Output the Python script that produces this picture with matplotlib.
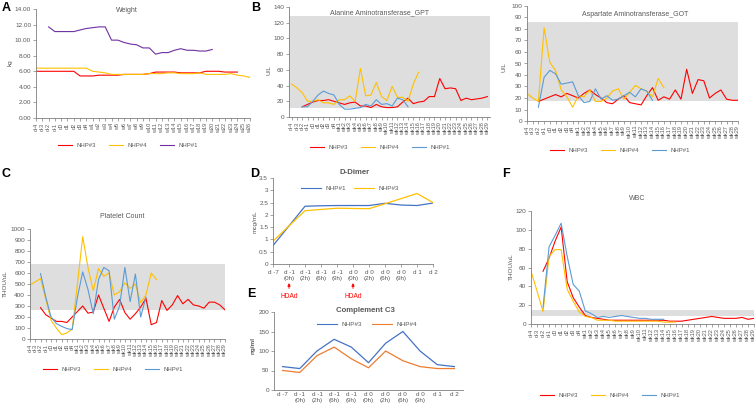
import numpy as np
import matplotlib
matplotlib.use('Agg')
import matplotlib.pyplot as plt
from matplotlib.lines import Line2D

plt.rcParams['font.family'] = ['Liberation Sans', 'DejaVu Sans']

W, H = 756, 413
nan = np.nan

RED = '#FF0000'
YEL = '#FFC000'
PUR = '#7030A0'
LBLUE = '#5B9BD5'
DBLUE = '#4472C4'
ORANGE = '#ED7D31'
TXT = '#595959'
BAND = '#DEDEDE'

# category labels
days = ['d-4', 'd-3', 'd-2', 'd-1', 'd0', 'd1', 'd2', 'd3', 'd4']
weight_labels = days + ['w%d' % i for i in range(1, 27)]
lab_labels = days + ['wk%d' % i for i in range(1, 30)]
dose_labels = ['d -7', 'd -1\n(0h)', 'd -1\n(2h)', 'd -1\n(6h)', 'd -1\n(9h)',
               'd 0\n(0h)', 'd 0\n(2h)', 'd 0\n(6h)', 'd 0\n(9h)', 'd 1', 'd 2']

# A - weight (kg)
weight_nhp3 = [6.0, 6.0, 6.0, 6.0, 6.0, 6.0, 6.0, 5.4, 5.4, 5.4, 5.5, 5.5, 5.5, 5.5, 5.6, 5.6, 5.6,
               5.6, 5.7, 5.9, 5.9, 5.9, 5.9, 5.8, 5.8, 5.8, 5.8, 6.0, 6.0, 6.0, 5.9, 5.9, 5.9]
weight_nhp4 = [6.4, 6.4, 6.4, 6.4, 6.4, 6.4, 6.4, 6.4, 6.4, 6.0, 5.9, 5.8, 5.6, 5.6, 5.6, 5.6, 5.6,
               5.6, 5.7, 5.7, 5.7, 5.8, 5.8, 5.7, 5.7, 5.7, 5.8, 5.6, 5.6, 5.6, 5.6, 5.7, 5.5, 5.4, 5.2]
weight_nhp1 = [nan, nan, 11.7, 11.1, 11.1, 11.1, 11.1, 11.3, 11.5, 11.6, 11.7, 11.7, 10.0, 10.0, 9.7,
               9.5, 9.4, 9.0, 9.0, 8.2, 8.4, 8.4, 8.7, 8.9, 8.7, 8.7, 8.6, 8.6, 8.8]

# B - GPT (U/L)
gpt_nhp3 = [nan, nan, 13, 16, 19, 21, 21, 22, 20, 18, 16, 18, 19, 14, 14, 12, 16, 13, 12, 12,
            13, 19, 24, 17, 19, 20, 26, 26, 49, 36, 37, 36, 21, 24, 22, 23, 24, 26]
gpt_nhp4 = [42, 37, 31, 20, 20, 22, 18, 18, 16, 22, 22, 27, 20, 62, 27, 28, 44, 26, 21, 39,
            25, 25, 20, 42, 57]
gpt_nhp1 = [nan, nan, 13, 13, 20, 28, 33, 30, 28, 16, 10, 10, 11, 12, 16, 14, 22, 16, 17, 14,
            24, 22, 13]

# B - GOT (U/L)
got_nhp3 = [nan, nan, 17, 19, 21, 23, 21, 24, 22, 20, 24, 27, 23, 20, 16, 15, 19, 22, 16, 15,
            14, 22, 29, 18, 21, 19, 27, 19, 45, 24, 36, 35, 20, 24, 27, 19, 18, 18]
got_nhp4 = [24, 20, 17, 81, 51, 44, 27, 21, 12, 22, 21, 27, 17, 17, 20, 26, 28, 19, 25, 31,
            28, 26, 21, 37, 29]
got_nhp1 = [nan, nan, 12, 38, 44, 41, 32, 33, 34, 22, 16, 17, 28, 19, 22, 18, 19, 22, 25, 21,
            28, 26, 18]

# C - platelet (THOU/uL)
plt_nhp3 = [nan, nan, 285, 220, 190, 160, 160, 150, 200, 250, 300, 235, 245, 400, 280, 160, 290,
            360, 240, 180, 230, 290, 370, 130, 150, 350, 260, 310, 395, 320, 360, 310, 300, 280,
            335, 335, 310, 265]
plt_nhp4 = [490, 520, 550, 360, 170, 100, 40, 55, 90, 500, 930, 650, 440, 640, 570, 600, 400, 430,
            510, 460, 500, 330, 400, 600, 540]
plt_nhp1 = [nan, nan, 595, 380, 200, 140, 115, 95, 85, 380, 610, 450, 230, 540, 650, 620, 180,
            300, 650, 340, 590, 200, 380]

# D - D-Dimer (mcg/mL)
dd_nhp1 = [0.75, 1.55, 2.35, 2.37, 2.38, 2.38, 2.38, 2.47, 2.40, 2.38, 2.48]
dd_nhp3 = [0.93, 1.55, 2.17, 2.22, 2.27, 2.26, 2.25, 2.45, 2.66, 2.87, 2.50]

# E - complement C3 (ng/ml)
c3_nhp3 = [60, 55, 100, 130, 110, 70, 120, 150, 100, 65, 60]
c3_nhp4 = [50, 45, 88, 110, 80, 57, 100, 75, 60, 55, 55]

# F - WBC (THOU/uL)
wbc_nhp3 = [nan, nan, 56, 70, 88, 103, 45, 28, 18, 9, 7, 6, 5, 4, 4, 4, 4, 4, 4, 4, 4, 4, 4,
            3, 3, 3, 4, 5, 6, 7, 8, 7, 6, 6, 6, 7, 5, 6]
wbc_nhp4 = [56, 35, 13, 72, 79, 79, 37, 24, 13, 8, 7, 4, 4, 4, 3, 3, 3, 3, 3, 3, 3, 3, 2, 2, 2]
wbc_nhp1 = [nan, nan, 18, 82, 94, 107, 72, 42, 35, 14, 11, 7, 8, 7, 8, 9, 8, 7, 6, 6, 5, 5, 5]

fig = plt.figure(figsize=(W / 100, H / 100), dpi=100)


def add_axes(l, t, r, b):
    return fig.add_axes([l / W, 1 - b / H, (r - l) / W, (b - t) / H])


def ftext(x, y, s, **kw):
    kw.setdefault('color', TXT)
    fig.text(x / W, 1 - y / H, s, **kw)


def pad(vals, n):
    v = np.full(n, np.nan)
    v[:len(vals)] = vals
    return v


def style(ax, yticks, fmt):
    for s in ['top', 'right']:
        ax.spines[s].set_visible(False)
    for s in ['left', 'bottom']:
        ax.spines[s].set_color('#7F7F7F')
        ax.spines[s].set_linewidth(0.6)
    ax.set_ylim(yticks[0], yticks[-1])
    ax.set_yticks(yticks)
    ax.set_yticklabels([fmt.format(v) for v in yticks])
    ax.tick_params(axis='both', colors='#7F7F7F', labelcolor=TXT, length=2, width=0.5, pad=1.5)
    ax.tick_params(axis='y', labelsize=4.6)


def time_panel(ax, labels, series, yticks, fmt, band=None, on_tick=True):
    n = len(labels)
    x = np.arange(n)
    if band:
        ax.axhspan(band[0], band[1], color=BAND, lw=0, zorder=0)
    for vals, c in series:
        ax.plot(x, pad(vals, n), color=c, lw=0.8)
    ax.set_xticks(x)
    ax.set_xticklabels(labels, rotation=90, fontsize=4)
    if on_tick:
        ax.set_xlim(0, n - 1)
    else:
        ax.set_xlim(-0.5, n - 0.5)
    style(ax, yticks, fmt)


def legend(cx, cy, items, fs=4.3, hl=2.3, cs=2.3):
    handles = [Line2D([], [], color=c, lw=0.8, label=l) for l, c in items]
    fig.legend(handles=handles, loc='center', bbox_to_anchor=(cx / W, 1 - cy / H),
               ncol=len(items), frameon=False, fontsize=fs, handlelength=hl,
               handletextpad=0.7, columnspacing=cs, labelcolor=TXT)


trio = [('NHP#3', RED), ('NHP#4', YEL), ('NHP#1', LBLUE)]

# A
ax = add_axes(36, 9, 250, 118)
time_panel(ax, weight_labels, [(weight_nhp3, RED), (weight_nhp4, YEL), (weight_nhp1, PUR)],
           np.arange(0, 15, 2), '{:.2f}')
ftext(127, 11, 'Weight', fontsize=5, ha='center', va='center')
ftext(10, 63, 'kg', fontsize=4.6, rotation=90, ha='center', va='center')
legend(128, 145, [('NHP#3', RED), ('NHP#4', YEL), ('NHP#1', PUR)])

# B - GPT
ax = add_axes(289, 7, 490, 117)
time_panel(ax, lab_labels, [(gpt_nhp3, RED), (gpt_nhp4, YEL), (gpt_nhp1, LBLUE)],
           np.arange(0, 141, 20), '{:d}', band=(11, 128), on_tick=False)
ftext(380, 13, 'Alanine Aminotransferase_GPT', fontsize=5, ha='center', va='center')
ftext(269, 70, 'U/L', fontsize=4.6, rotation=90, ha='center', va='center')
legend(380, 147, trio)

# B - GOT
ax = add_axes(527, 6, 738, 121)
time_panel(ax, lab_labels, [(got_nhp3, RED), (got_nhp4, YEL), (got_nhp1, LBLUE)],
           np.arange(0, 101, 10), '{:d}', band=(17, 86))
ftext(635, 14, 'Aspartate Aminotransferase_GOT', fontsize=5, ha='center', va='center')
ftext(504, 67, 'U/L', fontsize=4.6, rotation=90, ha='center', va='center')
legend(620, 150, trio)

# C
ax = add_axes(30, 229, 225, 339)
time_panel(ax, lab_labels, [(plt_nhp3, RED), (plt_nhp4, YEL), (plt_nhp1, LBLUE)],
           np.arange(0, 1001, 100), '{:d}', band=(265, 680))
ftext(122, 216, 'Platelet Count', fontsize=5, ha='center', va='center')
ftext(5, 284, 'THOU/uL', fontsize=4.6, rotation=90, ha='center', va='center')
legend(113, 369, trio)

# D
ax = add_axes(273, 178, 433, 264)
xd = np.arange(len(dose_labels))
ax.plot(xd, dd_nhp1, color=DBLUE, lw=0.9, label='NHP#1')
ax.plot(xd, dd_nhp3, color=YEL, lw=0.9, label='NHP#3')
ax.set_xticks(xd)
ax.set_xticklabels(dose_labels, fontsize=4.5, linespacing=1.3)
ax.set_xlim(0, len(dose_labels) - 1)
style(ax, np.arange(0, 3.51, 0.5), '{:g}')
ax.tick_params(axis='x', length=2.5)
ftext(355, 173, 'D-Dimer', fontsize=5.6, fontweight='bold', ha='center', va='center')
ftext(255, 222, 'mcg/mL', fontsize=4.6, rotation=90, ha='center', va='center')
legend(350, 188, [('NHP#1', DBLUE), ('NHP#3', YEL)], fs=4.6, hl=3.2, cs=1.2)
for i in [1, 5]:
    ax.annotate('HDAd', xy=(i, 1 - 283 / H), xytext=(i, 1 - 296 / H),
                xycoords=('data', 'figure fraction'), textcoords=('data', 'figure fraction'),
                ha='center', va='center', color='red', fontsize=4.8, annotation_clip=False,
                arrowprops=dict(arrowstyle='-|>', color='red', lw=0.7, mutation_scale=4,
                                shrinkA=1, shrinkB=0))

# E
ax = add_axes(274, 312, 463, 390)
ax.plot(xd, c3_nhp3, color=DBLUE, lw=0.9)
ax.plot(xd, c3_nhp4, color=ORANGE, lw=0.9)
ax.set_xticks(xd)
ax.set_xticklabels(dose_labels, fontsize=4.5, linespacing=1.3)
ax.set_xlim(-0.5, len(dose_labels) - 0.5)
style(ax, np.arange(0, 201, 50), '{:d}')
ax.tick_params(axis='x', length=0)
ftext(365, 311, 'Complement C3', fontsize=5.6, fontweight='bold', ha='center', va='center')
ftext(253, 345, 'ng/ml', fontsize=4.6, fontweight='bold', rotation=90, ha='center', va='center')
legend(367, 324, [('NHP#3', DBLUE), ('NHP#4', ORANGE)], fs=4.6, hl=3.2, cs=1.5)

# F
ax = add_axes(531, 211, 754, 324)
time_panel(ax, lab_labels, [(wbc_nhp3, RED), (wbc_nhp4, YEL), (wbc_nhp1, LBLUE)],
           np.arange(0, 121, 20), '{:d}', band=(8, 15))
ftext(637, 198, 'WBC', fontsize=5, ha='center', va='center')
ftext(511, 267, 'THOU/uL', fontsize=4.6, rotation=90, ha='center', va='center')
legend(610, 395, trio)

# panel letters
for x, y, s in [(2, 2, 'A'), (251, 2, 'B'), (2, 168, 'C'), (250, 168, 'D'),
                (247, 288, 'E'), (502, 168, 'F')]:
    ftext(x, y, s, fontsize=9, fontweight='bold', color='black', ha='left', va='top')

fig.savefig('out.png', dpi=100)
